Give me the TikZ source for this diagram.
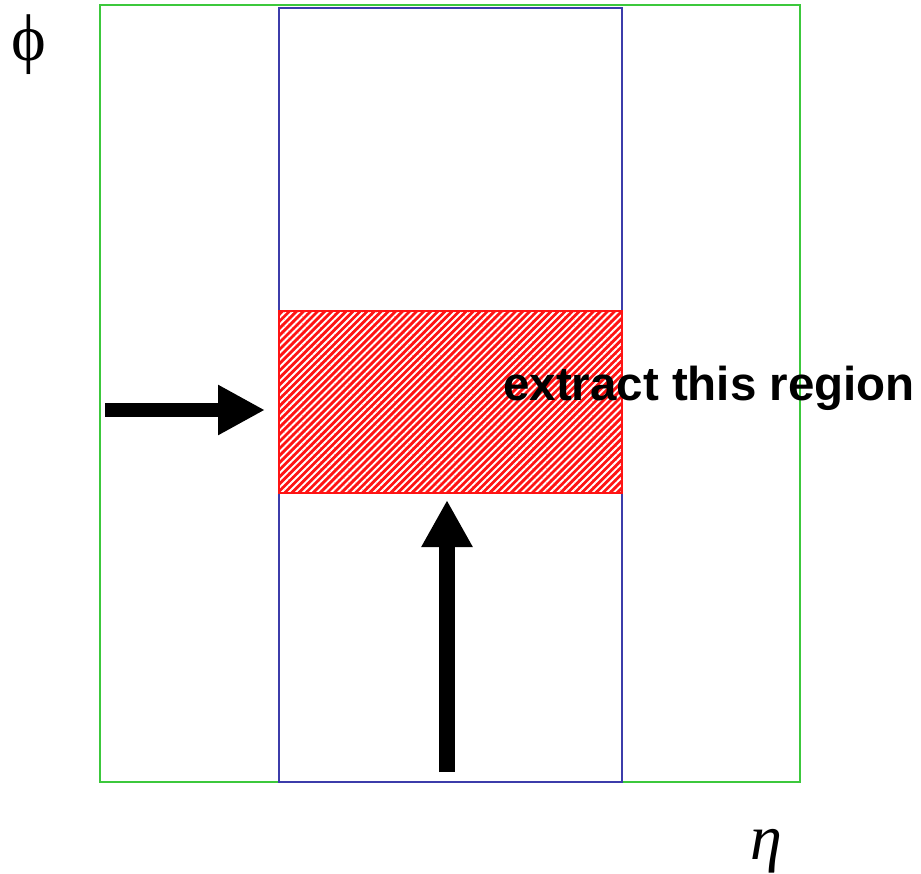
\documentclass[tikz,border=0pt]{standalone}
\usepackage{fontspec}
\setmainfont{Liberation Serif}
\newfontfamily\labelfont{Liberation Sans}
\usetikzlibrary{arrows.meta,patterns.meta}
\definecolor{gbox}{RGB}{60,200,60}
\definecolor{bbox}{RGB}{60,60,170}
\definecolor{rbox}{RGB}{255,20,20}
\tikzset{
  outerbox/.style={draw=gbox,line width=1.6pt},
  bandbox/.style={draw=bbox,line width=1.6pt},
  regionbox/.style={draw=rbox,line width=1.6pt,fill=rbox,
    postaction={pattern={Lines[angle=45,distance=5pt,line width=1.9pt]},pattern color=white}},
  bigarrow/.style={line width=#1},
}
\begin{document}
\begin{tikzpicture}[x=1pt,y=-1pt]
\useasboundingbox (0,0) rectangle (921,873);
\fill[white] (0,0) rectangle (921,873);
\draw[outerbox] (100,5) rectangle (800,782);
\draw[regionbox] (279,311) rectangle (622,493);
\draw[bandbox] (279,8) rectangle (622,782);
\draw[draw=rbox,line width=1.6pt] (279,311) rectangle (622,493);
\node[anchor=base west,inner sep=0pt,font=\labelfont\bfseries\fontsize{47.5}{52}\selectfont] (lbl) at (503,400) {extract this region};
\node[inner sep=0pt,font=\fontsize{66}{70}\selectfont] (phi) at (29,45) {ϕ};
\node[inner sep=0pt,font=\itshape\fontsize{64}{68}\selectfont] (eta) at (766,851) {η};
\coordinate (la) at (105,410);
\coordinate (lb) at (265,410);
\coordinate (ua) at (447,772);
\coordinate (ub) at (447,500);
\draw[bigarrow=14pt,-{Triangle[length=47pt,width=47pt]}] (la) -- (lb);
\draw[bigarrow=16pt,-{Triangle[length=47pt,width=48pt]}] (ua) -- (ub);
\end{tikzpicture}
\end{document}
